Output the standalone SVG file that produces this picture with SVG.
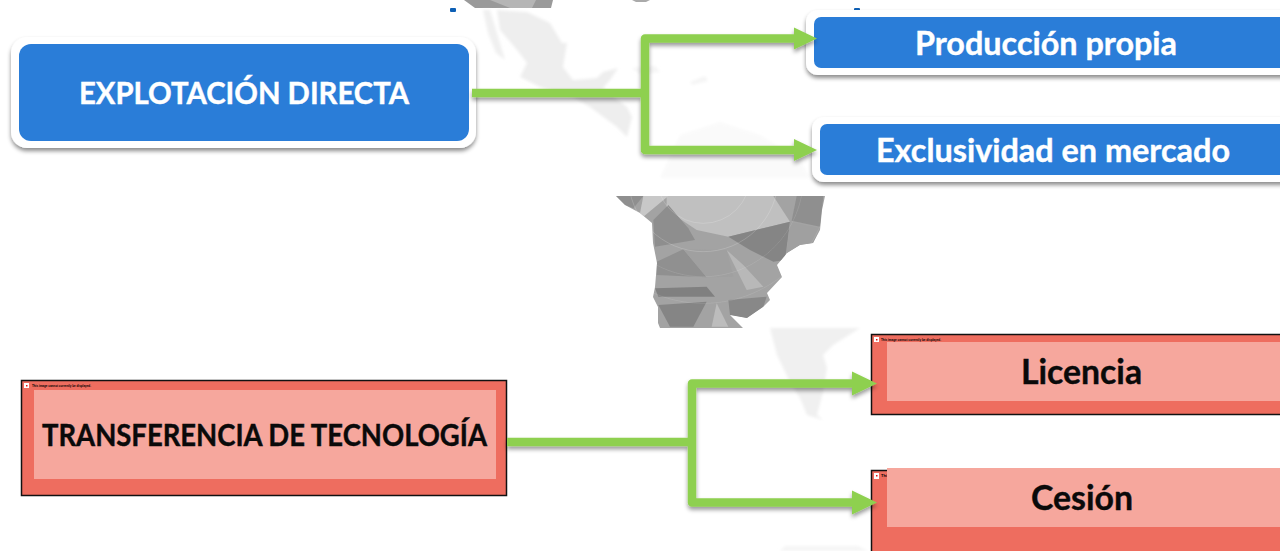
<svg xmlns="http://www.w3.org/2000/svg" width="1280" height="551" viewBox="0 0 1280 551">
<defs>
<filter id="sh" filterUnits="userSpaceOnUse" x="0" y="0" width="1280" height="551"><feDropShadow dx="0" dy="3" stdDeviation="2" flood-color="#000" flood-opacity="0.45"/></filter>
<filter id="ls" filterUnits="userSpaceOnUse" x="0" y="0" width="1280" height="551"><feDropShadow dx="0" dy="3" stdDeviation="2" flood-color="#000" flood-opacity="0.4"/></filter>
<filter id="bl" filterUnits="userSpaceOnUse" x="0" y="0" width="1280" height="551"><feGaussianBlur stdDeviation="0.6"/></filter>
<filter id="bl2" filterUnits="userSpaceOnUse" x="0" y="0" width="1280" height="551"><feGaussianBlur stdDeviation="1.5"/></filter>
<marker id="ah" markerUnits="userSpaceOnUse" markerWidth="26" markerHeight="24" refX="1" refY="12" orient="auto"><path d="M0 1L23 12L0 23Z" fill="#8ED04F"/></marker>
<marker id="ah2" markerUnits="userSpaceOnUse" markerWidth="28" markerHeight="26" refX="1" refY="13" orient="auto"><path d="M0 1L25 13L0 25Z" fill="#8ED04F"/></marker>
<clipPath id="sa"><path d="M616 196L625 205L640 213L652 223L653 243L657 263L655 287L653 297L658 307L658 323L660 328H743L730 315L747 318L763 307L770 300L767 293L782 277L777 265L787 253L800 245L813 243L820 230L822 210L825 196Z"/></clipPath>
</defs>
<style>
.wh{fill:#fff;filter:url(#sh)}
.bl{fill:#2A7DD8}
.rd{fill:#EE6D5F;stroke:#111;stroke-width:1.500}
.pk{fill:#F6A79D}
.t{font-family:"Lato","Liberation Sans",sans-serif;font-weight:700;text-anchor:middle}
.w{fill:#fff;stroke:#fff;stroke-width:.4}
.k{fill:#0a0a0a;stroke:#0a0a0a;stroke-width:.4}
.e{font-family:"Liberation Sans",sans-serif;font-size:4px;font-weight:700;fill:#000}
.c{fill:none;stroke:#8ED04F;stroke-width:8.500;stroke-linejoin:round}
.ic{fill:#fff}
.ir{fill:#e01010}
.ring{fill:none;stroke:#fff;stroke-opacity:.35;stroke-width:1.500}
</style>
<g id="map">
<g id="map-top" filter="url(#bl)">
<path d="M464 0H553L551 8H475Z" fill="#9a9a9a"/>
<path d="M490 0L510 8H532L536 0Z" fill="#b5b5b5"/>
<path d="M632 0H650L646 2H636Z" fill="#aaa"/>
<rect x="450" y="8" width="6" height="4" rx="1" fill="#0F5FB5"/>
<rect x="854" y="8" width="6" height="4" rx="1" fill="#0F5FB5"/>
</g>
<g id="map-faint" filter="url(#bl2)">
<path d="M483 10H490L497 33L505 60L496 53L488 33Z" fill="#f0f0f0"/>
<path d="M497 10L527 12L550 23L562 43L567 43L563 67L573 80L597 78L603 72L618 68L610 80L603 88L627 107L632 117L627 137L617 127L590 107L573 97L540 87L520 77L527 63L517 50L500 30Z" fill="#eeeeee"/>
<path d="M632 68L655 66L660 72L640 74Z" fill="#f5f5f5"/>
<path d="M690 82L705 76L708 81L692 85Z" fill="#f5f5f5"/>
<path d="M660 178L680 135L720 122L760 135L800 160L810 178Z" fill="#fafafa"/>
<path d="M770 328H860L833 345L823 355L827 368L823 392L817 415L823 420L807 415L800 398L790 382L777 355Z" fill="#f0f0f0"/>
<path d="M780 551L785 546H858L868 551Z" fill="#f5f5f5"/>
</g>
<g id="map-south" filter="url(#bl)">
<g clip-path="url(#sa)">
<rect x="610" y="190" width="220" height="145" fill="#a3a3a3"/>
<g transform="translate(600 190) scale(.33333)">
<path d="M200 18H520L570 95L385 140L290 120L200 60Z" fill="#c0c0c0"/>
<path d="M160 90L205 45L265 115L285 150L165 170Z" fill="#8e8e8e"/>
<path d="M385 140L570 95L555 210L520 215L450 180Z" fill="#858585"/>
<path d="M570 95L640 110L660 115L640 160L600 165L560 190Z" fill="#a0a0a0"/>
<path d="M590 18H670L660 110L575 92Z" fill="#8f8f8f"/>
<path d="M48 18H130L100 55L75 45Z" fill="#8f8f8f"/>
<path d="M130 18H205L130 80L120 70Z" fill="#c8c8c8"/>
<path d="M170 215L250 178L320 262L170 255Z" fill="#909090"/>
<path d="M250 178L380 180L400 260L320 262Z" fill="#a0a0a0"/>
<path d="M380 180L440 300L490 290L430 225Z" fill="#b8b8b8"/>
<path d="M165 295L320 290L345 320L175 320Z" fill="#808080"/>
<path d="M175 345L320 335L280 410L210 410Z" fill="#858585"/>
<path d="M350 340L385 410L335 410Z" fill="#bcbcbc"/>
<path d="M385 330L500 320L490 350L440 385L390 375Z" fill="#888"/>
<circle class="ring" cx="310" cy="-40" r="140"/>
<circle class="ring" cx="310" cy="-40" r="225"/>
<circle class="ring" cx="310" cy="-40" r="300" stroke-dasharray="2 1"/>
<circle class="ring" cx="310" cy="-40" r="380" stroke-dasharray="2 1"/>
</g>
</g>
</g>
</g>
<g id="explotacion">
<rect class="wh" x="11" y="37" width="465" height="111" rx="16"/>
<rect class="bl" x="19" y="44" width="450" height="97" rx="12"/>
<text class="t w" x="244" y="104" font-size="30" textLength="330" lengthAdjust="spacingAndGlyphs">EXPLOTACIÓN DIRECTA</text>
</g>
<g id="produccion">
<rect class="wh" x="806" y="10" width="490" height="65" rx="12"/>
<rect class="bl" x="814" y="17" width="480" height="51" rx="7"/>
<text class="t w" x="1046" y="55" font-size="32.500" textLength="262" lengthAdjust="spacingAndGlyphs">Producción propia</text>
</g>
<g id="exclusividad">
<rect class="wh" x="812" y="117" width="490" height="65" rx="12"/>
<rect class="bl" x="820" y="124" width="480" height="51" rx="7"/>
<text class="t w" x="1053" y="162" font-size="32.500" textLength="354" lengthAdjust="spacingAndGlyphs">Exclusividad en mercado</text>
</g>
<g id="transferencia">
<rect class="rd" x="21.500" y="380.500" width="485" height="115"/>
<rect class="ic" x="24" y="383" width="5" height="5"/><rect class="ir" x="26" y="385" width="1.500" height="1.500"/>
<text class="e" x="32" y="386.500" textLength="59" lengthAdjust="spacingAndGlyphs">This image cannot currently be displayed.</text>
<rect class="pk" x="34" y="390" width="462" height="89"/>
<text class="t k" x="264.500" y="446" font-size="30" textLength="445" lengthAdjust="spacingAndGlyphs">TRANSFERENCIA DE TECNOLOGÍA</text>
</g>
<g id="licencia">
<rect class="rd" x="871.500" y="334.500" width="420" height="80"/>
<rect class="ic" x="874" y="337" width="5" height="5"/><rect class="ir" x="876" y="339" width="1.500" height="1.500"/>
<text class="e" x="881" y="340.500" textLength="60" lengthAdjust="spacingAndGlyphs">This image cannot currently be displayed.</text>
<rect class="pk" x="887" y="342" width="393" height="59"/>
<text class="t k" x="1081.500" y="384" font-size="34" textLength="121" lengthAdjust="spacingAndGlyphs">Licencia</text>
</g>
<g id="cesion">
<rect class="rd" x="871.500" y="470.500" width="420" height="90"/>
<rect class="ic" x="874" y="473" width="5" height="6"/><rect class="ir" x="876" y="475" width="1.500" height="1.500"/>
<text class="e" x="881" y="477">This</text>
<rect class="pk" x="887" y="468" width="393" height="59"/>
<text class="t k" x="1082" y="510" font-size="34" textLength="102" lengthAdjust="spacingAndGlyphs">Cesión</text>
</g>
<g id="connectors" filter="url(#ls)">
<path class="c" d="M472 93H645"/>
<path class="c" d="M645 93V38.500H795" marker-end="url(#ah)"/>
<path class="c" d="M645 93V150H795" marker-end="url(#ah)"/>
<path class="c" d="M507 442H692"/>
<path class="c" d="M692 442V383.500H853" marker-end="url(#ah2)"/>
<path class="c" d="M692 442V502.500H853" marker-end="url(#ah2)"/>
</g>
</svg>
